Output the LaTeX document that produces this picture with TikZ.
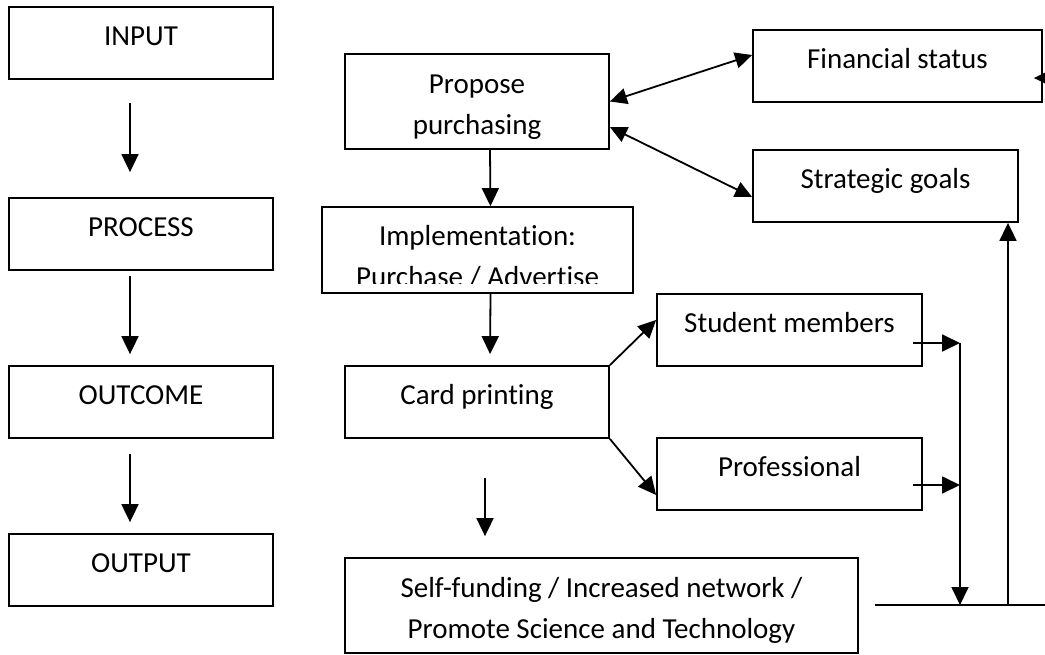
\documentclass[tikz,border=0pt]{standalone}
\usepackage{fontspec}
\setmainfont{Carlito}[Ligatures=NoCommon]
\usepackage{tikz}
\usetikzlibrary{arrows.meta,positioning,calc}

\newcommand{\topstrut}{\rule{0pt}{29pt}}
\tikzstyle{box} = [draw, line width=1.8pt, inner sep=0pt, align=center]
\tikzstyle{oneline} = [text height=19pt, text depth=14pt]
\tikzstyle{arrow} = [line width=1.8pt, -{Triangle[length=18pt,width=17pt]}]
\tikzstyle{twoway} = [line width=1.8pt, {Triangle[length=17pt,width=16pt]}-{Triangle[length=17pt,width=16pt]}]
\tikzstyle{plain} = [line width=1.8pt]

\begin{document}
\begin{tikzpicture}[x=1pt, y=-1pt, font=\fontsize{29pt}{41pt}\selectfont]
\useasboundingbox (0,0) rectangle (1045,654);

% Left column
\node[box, oneline, minimum width=264pt, minimum height=72pt] (input) at (141,43) {INPUT};
\node[box, oneline, minimum width=264pt, minimum height=72pt] (process) at (141,234) {PROCESS};
\node[box, oneline, minimum width=264pt, minimum height=72pt] (outcome) at (141,402) {OUTCOME};
\node[box, oneline, minimum width=264pt, minimum height=72pt] (output) at (141,570) {OUTPUT};

\draw[arrow, shorten <=23pt, shorten >=25pt] ([xshift=-11pt]input.south) -- ([xshift=-11pt]process.north);
\draw[arrow, shorten <=5pt, shorten >=11pt] ([xshift=-11pt]process.south) -- ([xshift=-11pt]outcome.north);
\draw[arrow, shorten <=15pt, shorten >=11pt] ([xshift=-11pt]outcome.south) -- ([xshift=-11pt]output.north);

% Main flow
\node[box, minimum width=264pt, minimum height=95pt] (propose) at (477,101.5) {\topstrut Propose\\purchasing};
\node[box, oneline, minimum width=289pt, minimum height=72pt] (finance) at (897.5,66) {Financial status};
\node[box, oneline, minimum width=265pt, minimum height=72pt] (strategy) at (885.5,186) {Strategic goals};
\node[box, minimum width=311pt, minimum height=86pt] (impl) at (477.5,250) {};
\begin{scope}
\clip (impl.north west) rectangle ([yshift=10pt]impl.south east);
\node[anchor=north, align=center, inner sep=0pt] (impltext) at (477.5,225) {Implementation:\\Purchase / Advertise};
\end{scope}
\node[box, oneline, minimum width=264pt, minimum height=72pt] (card) at (477,402) {Card printing};
\node[box, oneline, minimum width=265pt, minimum height=72pt] (student) at (789.5,330) {Student members};
\node[box, oneline, minimum width=265pt, minimum height=72pt] (prof) at (789.5,474) {Professional};
\node[box, minimum width=513pt, minimum height=95pt] (result) at (601.5,605.5) {\topstrut Self-funding / Increased network /\\Promote Science and Technology};

% Connectors
\draw[twoway] (propose.east) -- ([yshift=11pt]finance.west);
\draw[twoway] ([yshift=-25.5pt]propose.east) -- ([yshift=-11pt]strategy.west);
\draw[arrow] ([xshift=13pt]propose.south) -- ([xshift=13pt]impl.north);
\draw[arrow, shorten >=11pt] ([xshift=13pt]impl.south) -- ([xshift=13pt]card.north);
\draw[arrow, shorten <=39pt, shorten >=21pt] ([xshift=8pt]card.south) coordinate (cstart) -- (cstart |- result.north);
\draw[arrow] (card.north east) -- ([yshift=10pt]student.west);
\draw[arrow] (card.south east) -- ([yshift=-21pt]prof.west);

% Collecting line on the right
\coordinate (bustop) at (960,343);
\coordinate (busbot) at (960,605);
\coordinate (lineleft) at (875,605);
\coordinate (lineright) at (1045,605);
\coordinate (feedback) at (1008,605);
\coordinate (finin) at (1060,78);
\draw[arrow] ([xshift=-10pt,yshift=-13pt]student.east) coordinate (sstart) -- (sstart -| bustop);
\draw[arrow] ([xshift=-10pt,yshift=-11pt]prof.east) coordinate (pstart) -- (pstart -| bustop);
\draw[arrow] (bustop) -- (busbot);
\draw[plain] (lineleft) -- (lineright);
\draw[arrow] (feedback) -- (feedback |- strategy.south);
\draw[arrow] (finin) -- ([xshift=-9pt,yshift=-12pt]finance.east);

\end{tikzpicture}
\end{document}
